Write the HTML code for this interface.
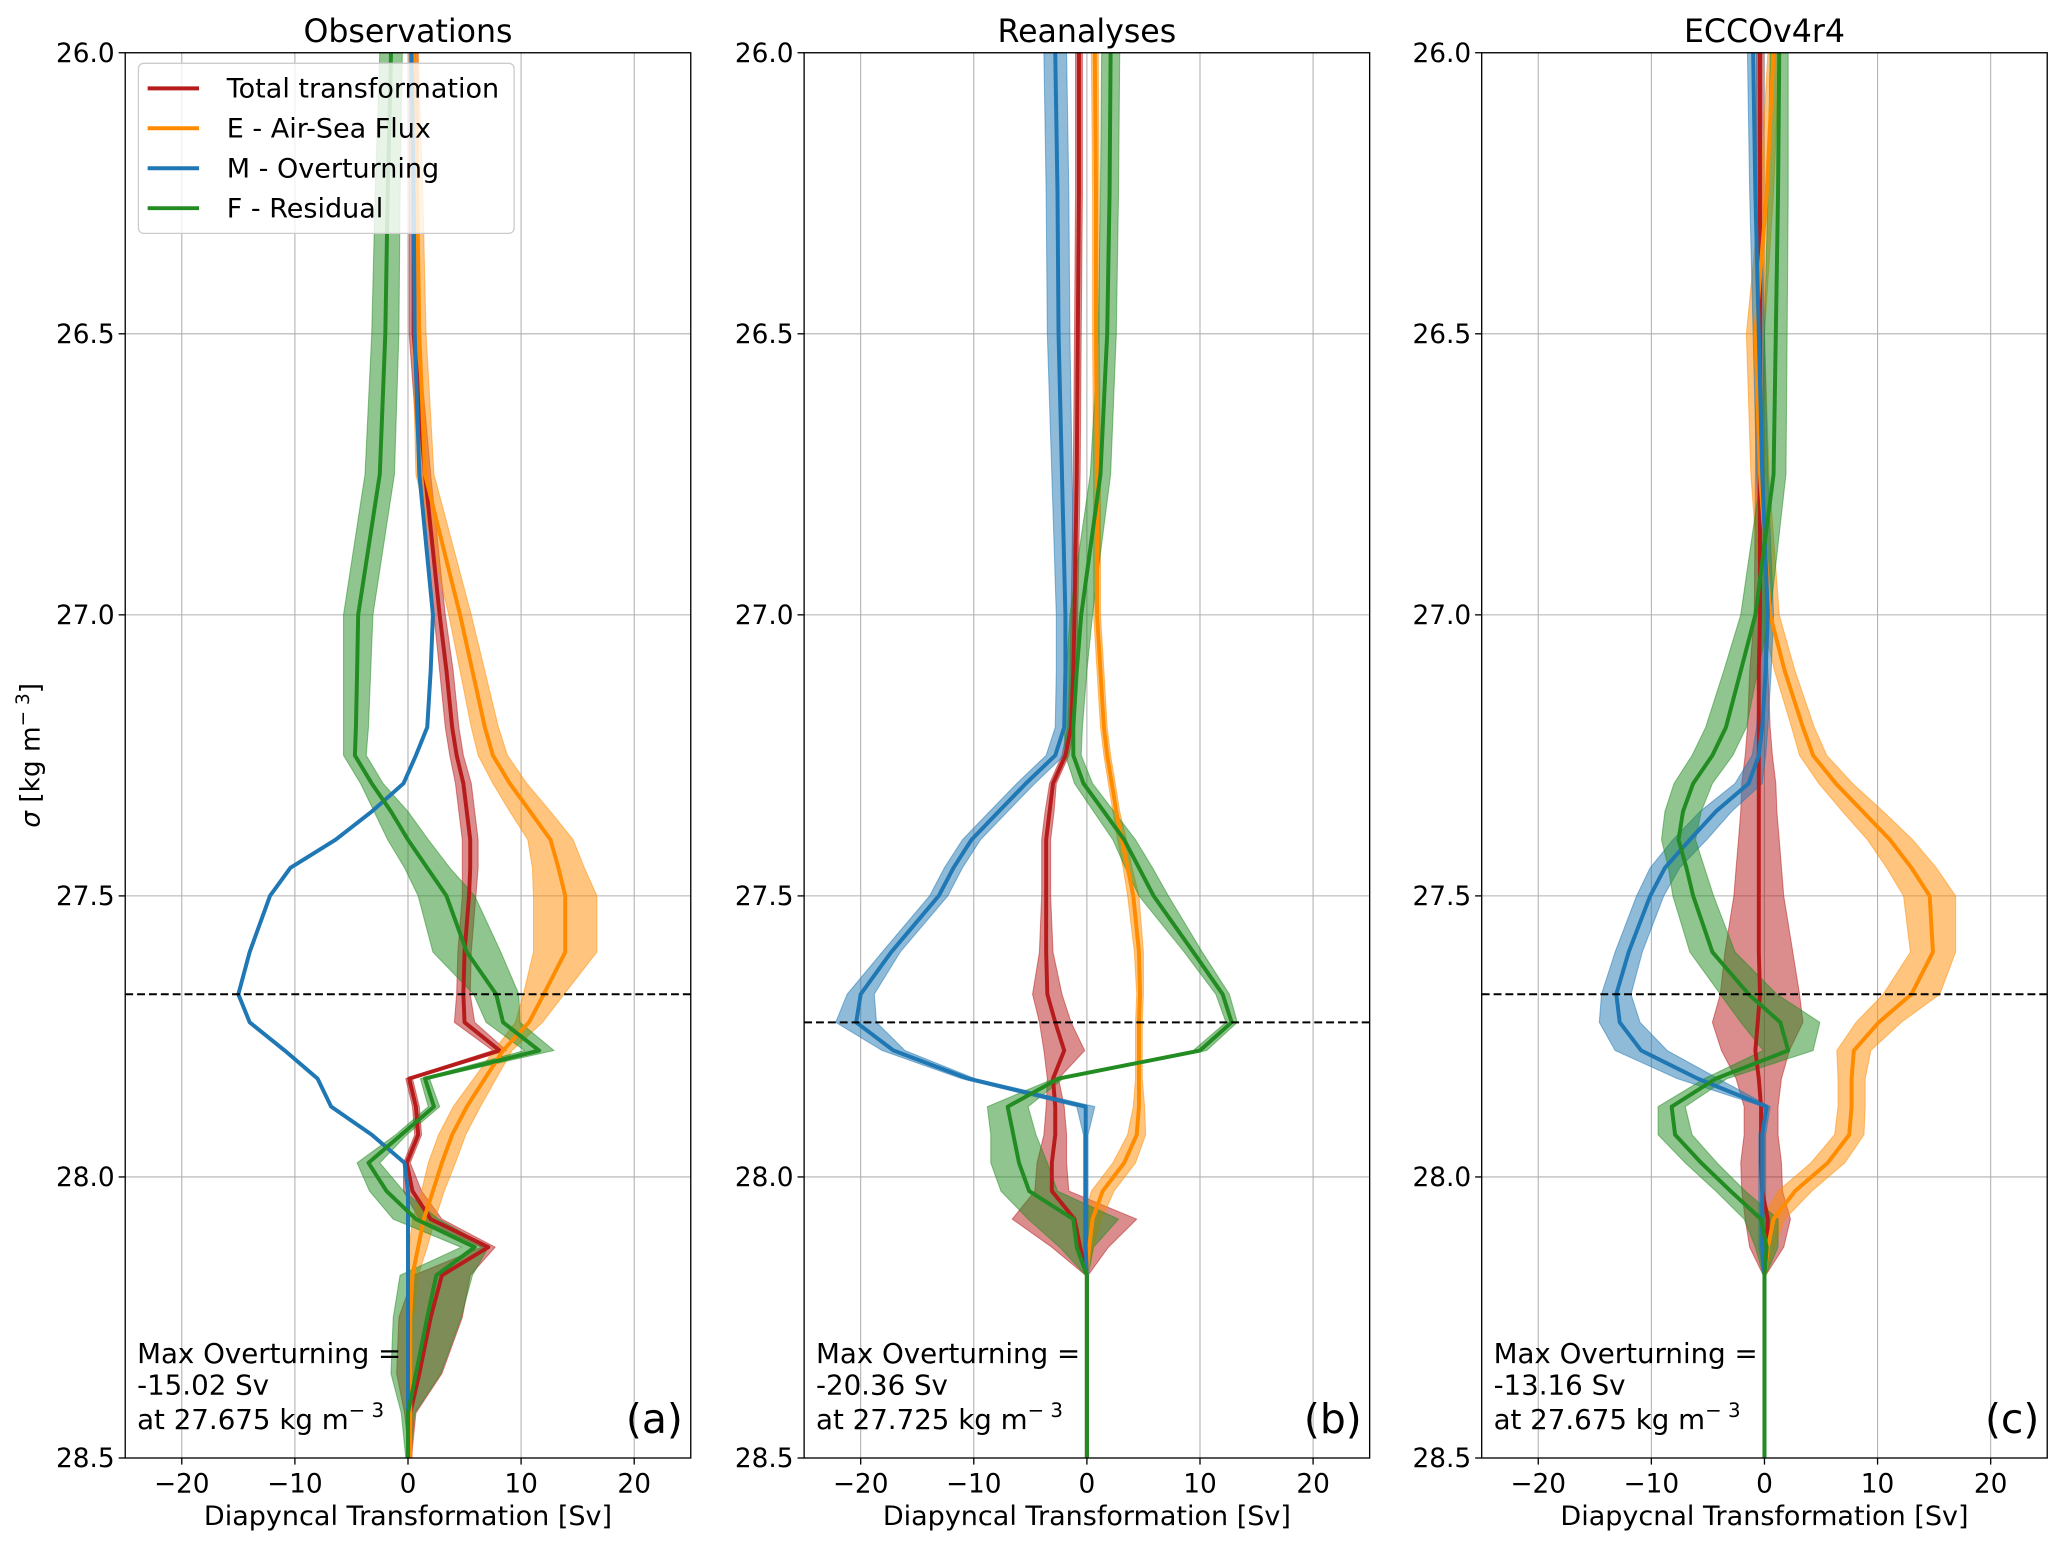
<!DOCTYPE html>
<html><head><meta charset="utf-8"><style>
html,body{margin:0;padding:0;background:#fff;}
svg{display:block;font-family:"DejaVu Sans","Liberation Sans",sans-serif;}
</style></head><body>
<svg id="fig" width="2067" height="1547" viewBox="0 0 1568 1173.5" xmlns="http://www.w3.org/2000/svg"></svg>
<script>
const sigma=[26.0,26.25,26.5,26.75,27.0,27.1,27.2,27.25,27.3,27.35,27.4,27.45,27.5,27.6,27.675,27.725,27.775,27.825,27.875,27.925,27.975,28.025,28.075,28.125,28.175,28.25,28.35,28.42,28.5];
const xTicks=[-20,-10,0,10,20];
const yTicks=[26.0,26.5,27.0,27.5,28.0,28.5];
const panelTitles=["Observations","Reanalyses","ECCOv4r4"];
const panelTags=["(a)","(b)","(c)"];
const maxOv=["-15.02 Sv","-20.36 Sv","-13.16 Sv"];
const maxSigma=[27.675,27.725,27.675];
const maxSigmaText=["27.675","27.725","27.675"];
const xLabels=["Diapyncal Transformation [Sv]","Diapyncal Transformation [Sv]","Diapycnal Transformation [Sv]"];
const seriesNames=["Total transformation","E - Air-Sea Flux","M - Overturning","F - Residual"];

const totA=[0.5,0.5,0.5,1.5,2.8,3.4,3.9,4.3,4.9,5.2,5.5,5.5,5.4,5.0,4.9,5.0,8.1,0.1,0.7,0.9,-0.1,0.4,2.0,7.1,3.0,2.0,1.0,0.2,0.2];
const totAhw=[0.4,0.4,0.4,0.5,0.5,0.6,0.6,0.6,0.7,0.7,0.7,0.7,0.6,0.6,0.6,0.9,0.6,0.3,0.3,0.3,0.3,0.8,1.0,0.6,2.5,2.8,2.0,0.5,0.1];
const airA=[0.5,0.8,1.0,1.5,4.6,5.7,6.8,7.5,9.0,10.8,12.6,13.3,13.9,13.9,12.0,10.7,8.4,6.8,5.2,3.9,3.0,2.2,1.4,0.9,0.4,0.2,0.2,0.2,0.2];
const airAhw=[0.4,0.5,0.6,0.8,1.0,1.1,1.2,1.3,1.5,1.8,2.0,2.3,2.8,2.8,1.8,1.2,0.8,1.0,1.2,1.2,1.2,1.0,1.0,0.8,0.5,0.3,0.2,0.2,0.1];
const ovA=[0.3,0.5,0.6,1.0,2.2,2.0,1.7,0.7,-0.4,-3.2,-6.4,-10.4,-12.2,-14.0,-15.0,-14.0,-10.9,-8.0,-6.8,-3.2,-0.3,0,0,0,0,0,0,0,0];
const ovAhw=[0.1,0.1,0.1,0.1,0.1,0.1,0.1,0.1,0.1,0.1,0.1,0.1,0.1,0.1,0.1,0.1,0.1,0.1,0.1,0.1,0.1,0.1,0.1,0.1,0.1,0.1,0.1,0.1,0.1];
const resA=[-1.5,-1.8,-2.0,-2.5,-4.4,-4.5,-4.6,-4.7,-3.2,-1.5,0.0,1.7,3.4,5.2,7.8,8.4,11.6,1.5,2.3,-0.6,-3.5,-1.9,0.7,5.9,2.5,1.7,0.7,0.0,0.0];
const resAhw=[1.0,1.1,1.2,1.3,1.3,1.2,1.1,1.0,1.0,1.5,1.8,2.0,2.5,3.0,2.0,1.5,1.3,0.4,0.5,0.5,1.0,1.5,2.0,1.2,3.2,3.0,2.2,0.6,0.2];

const totB=[-0.7,-0.7,-0.8,-0.9,-1.1,-1.2,-1.4,-1.9,-3.0,-3.3,-3.6,-3.6,-3.6,-3.6,-3.5,-2.8,-2.0,-3.0,-2.8,-2.8,-3.1,-3.1,-1.1,-0.6,0,0,0,0,0];
const totBhw=[0.3,0.3,0.3,0.3,0.3,0.3,0.3,0.3,0.3,0.4,0.4,0.4,0.4,0.6,1.3,1.4,1.8,0.5,0.8,1.0,1.3,1.5,5.5,2.5,0.1,0.1,0.1,0.1,0.1];
const airB=[0.7,0.8,0.8,0.9,0.9,1.2,1.5,1.8,2.2,2.6,3.1,3.6,4.1,4.6,4.7,4.6,4.6,4.6,4.6,4.4,3.3,1.4,0.5,0.2,0,0,0,0,0];
const airBhw=[0.3,0.3,0.3,0.3,0.3,0.3,0.3,0.3,0.3,0.3,0.4,0.4,0.5,0.4,0.3,0.3,0.3,0.3,0.5,0.8,1.0,1.0,0.8,0.4,0.1,0.1,0.1,0.1,0.1];
const ovB=[-2.8,-2.6,-2.5,-2.2,-1.9,-1.9,-2.0,-2.8,-5.4,-7.8,-10.2,-11.8,-13.1,-17.3,-20.0,-20.4,-17.1,-10.5,-0.1,-0.1,-0.1,-0.1,-0.1,-0.1,0,0,0,0,0];
const ovBhw=[1.0,1.0,1.0,0.9,0.8,0.8,0.8,0.8,0.8,0.8,0.8,0.8,0.8,0.8,1.2,1.8,1.0,0.6,0.8,0.2,0.2,0.2,0.2,0.2,0.1,0.1,0.1,0.1,0.1];
const resB=[2.1,2.0,1.8,1.2,-0.5,-0.9,-1.2,-1.2,-0.3,1.5,3.3,4.6,5.9,9.4,12.0,12.8,10.0,-2.5,-7.0,-6.5,-6.0,-5.1,-1.2,-0.9,0,0,0,0,0];
const resBhw=[0.8,0.8,0.8,0.9,1.0,0.9,0.8,0.7,0.8,0.9,1.0,1.2,1.3,0.8,0.6,0.5,0.6,0.4,1.8,2.0,2.5,2.5,4.0,1.5,0.1,0.1,0.1,0.1,0.1];

const totC=[-0.4,-0.4,-0.4,-0.4,-0.4,-0.5,-0.5,-0.5,-0.5,-0.5,-0.5,-0.5,-0.5,-0.5,-0.4,-0.6,-0.8,-0.5,-0.3,-0.3,-0.3,-0.2,0.3,0.2,0,0,0,0,0];
const totChw=[0.3,0.3,0.3,0.4,0.5,0.8,1.0,1.2,1.5,1.6,1.8,2.0,2.2,3.0,3.5,4.0,3.0,2.0,1.5,1.5,1.8,1.8,2.0,1.5,0.1,0.1,0.1,0.1,0.1];
const airC=[0.8,0.2,-0.8,-0.4,0.5,1.8,3.4,4.3,6.3,8.7,11.1,13.0,14.6,14.9,13.0,10.1,7.9,7.7,7.7,7.5,5.6,2.7,0.8,0.3,0,0,0,0,0];
const airChw=[0.5,0.6,0.8,0.8,0.8,0.9,1.0,1.2,1.5,1.8,2.0,2.2,2.3,2.0,2.5,2.0,1.5,1.2,1.2,1.3,1.5,1.5,1.0,0.6,0.1,0.1,0.1,0.1,0.1];
const ovC=[-1.0,-0.8,-0.5,-0.2,0.3,0.1,-0.2,-0.5,-1.4,-4.3,-6.6,-8.8,-10.1,-12.0,-13.1,-12.8,-10.9,-5.9,0.2,-0.2,-0.2,-0.2,-0.2,-0.2,0,0,0,0,0];
const ovChw=[0.5,0.5,0.5,0.5,0.5,0.5,0.5,0.6,1.2,1.4,1.5,1.3,1.2,1.2,1.3,1.8,2.3,1.8,0.3,0.3,0.3,0.3,0.3,0.3,0.1,0.1,0.1,0.1,0.1];
const resC=[1.3,1.2,1.0,0.8,-0.8,-2.1,-3.4,-4.6,-6.3,-7.2,-7.6,-6.9,-6.3,-4.6,-1.4,1.4,2.1,-4.3,-8.2,-7.9,-5.6,-3.0,-0.3,0.2,0,0,0,0,0];
const resChw=[0.8,0.9,1.0,1.1,1.3,1.5,1.8,1.8,1.7,1.6,1.5,1.6,1.8,2.0,2.5,3.5,2.2,1.0,1.2,1.5,1.4,1.3,1.5,1.0,0.1,0.1,0.1,0.1,0.1];

const NS="http://www.w3.org/2000/svg";
const svg=document.getElementById('fig');
const colors=["#b71c1c","#ff8c00","#1f77b4","#228b22"];
const panelsData=[
 [[totA,totAhw],[airA,airAhw],[ovA,ovAhw],[resA,resAhw]],
 [[totB,totBhw],[airB,airBhw],[ovB,ovBhw],[resB,resBhw]],
 [[totC,totChw],[airC,airChw],[ovC,ovChw],[resC,resChw]]
];
const panelLeft=[95,610,1124];
const PW=429, PT=40, PB=1106;
function mk(tag,attrs,parent){const e=document.createElementNS(NS,tag);for(const k in attrs)e.setAttribute(k,attrs[k]);(parent||svg).appendChild(e);return e;}
const seriesKeys=["total","air-sea","overturning","residual"];

for(let p=0;p<3;p++){
  const L=panelLeft[p];
  const xs=v=>L+(v+25)/50*PW;
  const ys=s=>PT+(s-26)/2.5*(PB-PT);
  const g=mk('g',{});
  
  
  xTicks.forEach(t=>{const l=mk('line',{x1:xs(t),x2:xs(t),y1:PT,y2:PB,stroke:'#b0b0b0','stroke-width':0.8},g);});
  yTicks.forEach(t=>{const l=mk('line',{x1:L,x2:L+PW,y1:ys(t),y2:ys(t),stroke:'#b0b0b0','stroke-width':0.8},g);});
  const data=panelsData[p];
  data.forEach((d,i)=>{
    const [v,hw]=d;
    let pts=sigma.map((s,j)=>xs(v[j]+hw[j]).toFixed(1)+','+ys(s).toFixed(1));
    let pts2=sigma.map((s,j)=>xs(v[j]-hw[j]).toFixed(1)+','+ys(s).toFixed(1)).reverse();
    const band=mk('polygon',{points:pts.concat(pts2).join(' '),fill:colors[i],'fill-opacity':0.5,stroke:colors[i],'stroke-opacity':0.5,'stroke-width':0.8},g);
    
    
  });
  data.forEach((d,i)=>{
    const v=d[0];
    const line=mk('polyline',{points:sigma.map((s,j)=>xs(v[j]).toFixed(1)+','+ys(s).toFixed(1)).join(' '),fill:'none',stroke:colors[i],'stroke-width':3,'stroke-linejoin':'round'},g);
    
    
  });
  const dl=mk('line',{x1:L,x2:L+PW,y1:ys(maxSigma[p]),y2:ys(maxSigma[p]),stroke:'#000','stroke-width':1.5,'stroke-dasharray':'6,3'},g);
  
  
  const fr=mk('rect',{x:L,y:PT,width:PW,height:PB-PT,fill:'none',stroke:'#000','stroke-width':1},g);
  
  
  xTicks.forEach(t=>{
    mk('line',{x1:xs(t),x2:xs(t),y1:PB,y2:PB+5,stroke:'#000','stroke-width':1},g);
    const tx=mk('text',{x:xs(t),y:PB+26,'font-size':20,'text-anchor':'middle'},g);
    tx.textContent=(t<0?'\u2212'+(-t):String(t));
    
    
  });
  yTicks.forEach(t=>{
    mk('line',{x1:L-5,x2:L,y1:ys(t),y2:ys(t),stroke:'#000','stroke-width':1},g);
    const tx=mk('text',{x:L-8,y:ys(t)+7,'font-size':20,'text-anchor':'end'},g);
    tx.textContent=t.toFixed(1);
    
    
  });
  const ti=mk('text',{x:L+PW/2,y:32,'font-size':24,'text-anchor':'middle'},g);
  ti.textContent=panelTitles[p];
  
  
  const xl=mk('text',{x:L+PW/2,y:1157,'font-size':20.5,'text-anchor':'middle'},g);
  xl.textContent=xLabels[p];
  
  
  const an=mk('text',{x:L+9,'font-size':21},g);
  
  
  const t1=mk('tspan',{x:L+9,y:1034},an);t1.textContent='Max Overturning =';
  const t2=mk('tspan',{x:L+9,y:1058},an);t2.textContent=maxOv[p];
  const t3=mk('tspan',{x:L+9,y:1084},an);t3.textContent='at '+maxSigmaText[p]+' kg m';
  const t4=mk('tspan',{dy:-9,'font-size':15},an);t4.textContent='\u2212 3';
  const tag=mk('text',{x:L+PW-6,y:1087,'font-size':31,'text-anchor':'end'},g);
  tag.textContent=panelTags[p];
  
  
}
const yt=mk('text',{x:0,y:0,'font-size':20,'text-anchor':'middle',transform:'translate(30,573) rotate(-90)'});


const ya=mk('tspan',{'font-style':'italic'},yt);ya.textContent='σ';
const yb=mk('tspan',{},yt);yb.textContent=' [kg m';
const yc=mk('tspan',{dy:-8,'font-size':14},yt);yc.textContent='\u2212 3';
const yd=mk('tspan',{dy:8},yt);yd.textContent=']';
const lg=mk('g',{});


mk('rect',{x:105,y:48,width:285,height:129,rx:4,fill:'#fff','fill-opacity':0.8,stroke:'#ccc','stroke-width':1},lg);
seriesNames.forEach((n,i)=>{
  const y=67+i*30.3;
  const e=mk('g',{},lg);
  
  
  mk('line',{x1:112,x2:151,y1:y,y2:y,stroke:colors[i],'stroke-width':3},e);
  const t=mk('text',{x:172,y:y+7,'font-size':20.5},e);t.textContent=n;
});
</script>
</body></html>
